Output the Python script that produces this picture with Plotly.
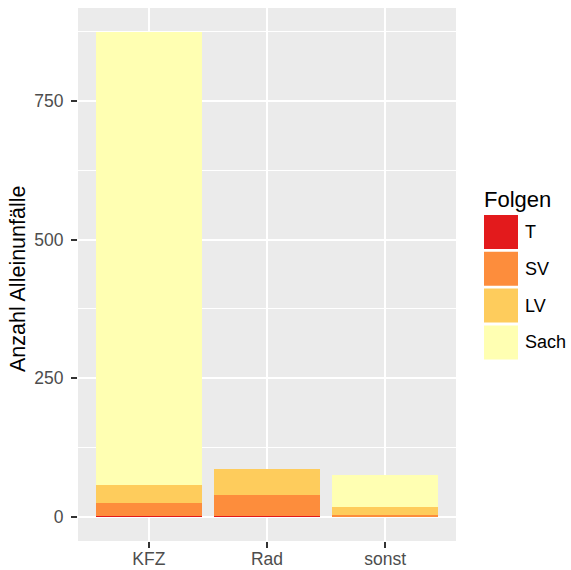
import plotly.graph_objects as go

categories = ["KFZ", "Rad", "sonst"]
levels = ["T", "SV", "LV", "Sach"]
T = [2, 2, 0]
SV = [22, 37, 4]
LV = [33, 48, 13]
Sach = [817, 0, 59]
colors = {"T": "#E31A1C", "SV": "#FD8D3C", "LV": "#FECC5C", "Sach": "#FFFFB2"}
series = {"T": T, "SV": SV, "LV": LV, "Sach": Sach}

W, H = 571, 570
ML, MR, MT, MB = 78, 115, 8, 29
PW, PH = W - ML - MR, H - MT - MB

def px_x(p):
    return (p - ML) / PW

def px_y(p):
    return (H - MB - p) / PH

FONT = "Liberation Sans, Arial, sans-serif"

fig = go.Figure()
for lv in levels:
    fig.add_trace(go.Bar(x=categories, y=series[lv], name=lv, width=0.9,
                         marker=dict(color=colors[lv], line=dict(width=0)),
                         showlegend=False))

totals = [sum(v) for v in zip(*series.values())]
ymax = max(totals)
yr = [-0.05 * ymax, 1.05 * ymax]

fig.update_layout(
    width=W, height=H, barmode="stack",
    margin=dict(l=ML, r=MR, t=MT, b=MB, pad=0, autoexpand=False),
    plot_bgcolor="#EBEBEB", paper_bgcolor="white",
    font=dict(family=FONT, color="#4D4D4D"),
    xaxis=dict(range=[-0.6, 2.6], showgrid=True, gridcolor="white", gridwidth=2,
               ticks="outside", ticklen=6, tickwidth=2, tickcolor="#333333",
               tickfont=dict(size=17.5, color="#4D4D4D"), zeroline=False,
               ticklabelstandoff=-4,
               showline=False, fixedrange=True),
    yaxis=dict(range=yr, tick0=0, dtick=250, showgrid=True, gridcolor="white", gridwidth=2,
               minor=dict(dtick=125, tick0=0, showgrid=True, gridcolor="white", gridwidth=1, ticks=""),
               ticks="outside", ticklen=6, tickwidth=2, tickcolor="#333333",
               tickfont=dict(size=17.5, color="#4D4D4D"), zeroline=False,
               ticklabelstandoff=4,
               showline=False, fixedrange=True),
)

annotations = [
    dict(text="Anzahl Alleinunfälle", xref="paper", yref="paper",
         x=px_x(18), y=px_y(279), xanchor="center", yanchor="middle",
         textangle=-90, showarrow=False, font=dict(size=21.5, color="black", family=FONT)),
    dict(text="Folgen", xref="paper", yref="paper", x=px_x(482), y=px_y(199),
         xanchor="left", yanchor="middle", showarrow=False,
         font=dict(size=22, color="black", family=FONT)),
]
shapes = []
key_top = 215
for i, lv in enumerate(levels):
    top = key_top + i * 36.8
    bot = top + 34
    shapes.append(dict(type="rect", xref="paper", yref="paper",
                       x0=px_x(484), x1=px_x(518), y0=px_y(bot), y1=px_y(top),
                       fillcolor=colors[lv], line=dict(width=0)))
    annotations.append(dict(text=lv, xref="paper", yref="paper", x=px_x(523),
                            y=px_y((top + bot) / 2), xanchor="left", yanchor="middle",
                            showarrow=False, font=dict(size=18, color="black", family=FONT)))

fig.update_layout(annotations=annotations, shapes=shapes)
fig.write_html("out.html", post_script="document.body.style.margin='0px';",
               config={"displayModeBar": False})
